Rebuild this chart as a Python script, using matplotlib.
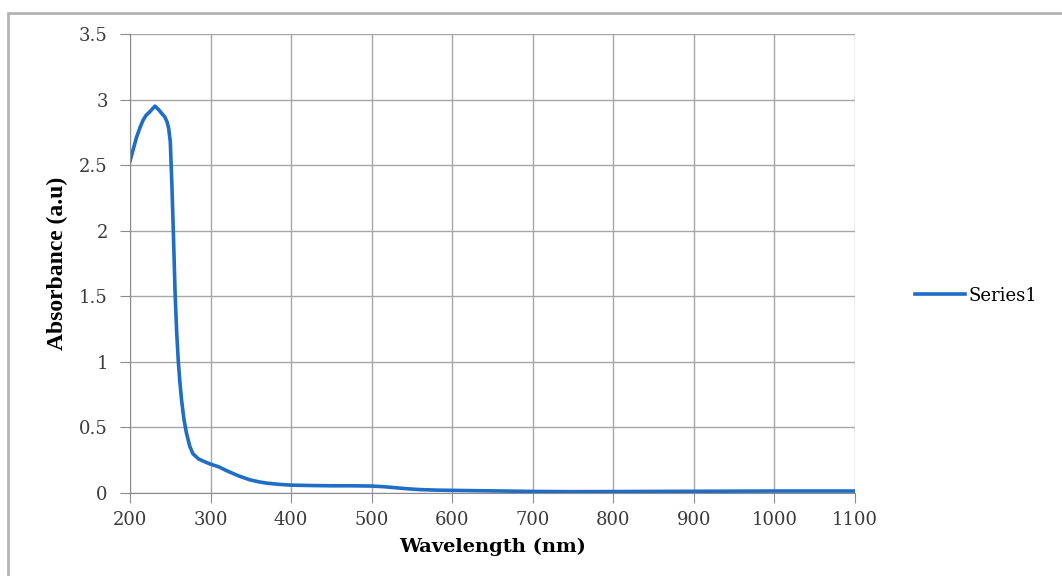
import matplotlib
matplotlib.use("Agg")
import matplotlib.pyplot as plt
import matplotlib.patches as patches

# absorbance spectrum
wavelength = [200, 204, 208, 212, 216, 220, 225, 231, 236, 240, 243, 246, 248, 250,
              252, 254, 256, 258, 260, 262, 264, 267, 270, 274, 278, 285, 292, 300,
              310, 320, 335, 349, 360, 370, 385, 400, 425, 450, 475, 500, 515, 530,
              545, 560, 580, 600, 650, 700, 750, 800, 850, 900, 950, 1000, 1050, 1100]
absorbance = [2.53, 2.62, 2.71, 2.78, 2.84, 2.88, 2.91, 2.95, 2.92, 2.89, 2.87, 2.83, 2.78, 2.68,
              2.35, 1.95, 1.52, 1.22, 1.00, 0.84, 0.71, 0.56, 0.46, 0.36, 0.30, 0.26, 0.24, 0.22,
              0.20, 0.17, 0.13, 0.10, 0.085, 0.075, 0.066, 0.060, 0.057, 0.055, 0.055, 0.053, 0.048, 0.040,
              0.032, 0.026, 0.022, 0.020, 0.016, 0.012, 0.010, 0.011, 0.012, 0.013, 0.014, 0.015, 0.015, 0.015]
series_name = "Series1"

x_ticks = list(range(200, 1101, 100))
y_ticks = [0, 0.5, 1, 1.5, 2, 2.5, 3, 3.5]
y_tick_labels = ["0", "0.5", "1", "1.5", "2", "2.5", "3", "3.5"]

plt.rcParams['font.family'] = ['DejaVu Serif']

fig = plt.figure(figsize=(10.62, 5.76), dpi=100)
ax = fig.add_axes([130/1062, 1 - 493/576, 725/1062, 459/576])

# outer chart frame (right and bottom edges run off the picture)
fig.patches.append(patches.Rectangle((8/1062, -20/576), 1080/1062, 583/576,
                                     transform=fig.transFigure, fill=False,
                                     edgecolor='#b4b4b4', linewidth=2))

ax.plot(wavelength, absorbance, color='#1f6dc4', linewidth=2.6, label=series_name)

ax.set_xlim(200, 1100)
ax.set_ylim(0, 3.5)
ax.set_xticks(x_ticks)
ax.set_yticks(y_ticks)
ax.set_yticklabels(y_tick_labels)
ax.grid(True, color='#a6a6a6', linewidth=1.0)
ax.set_axisbelow(True)

for side in ['top', 'right']:
    ax.spines[side].set_visible(False)
for side in ['left', 'bottom']:
    ax.spines[side].set_color('#8c8c8c')
ax.tick_params(axis='both', direction='out', length=7, color='#8c8c8c',
               labelsize=13, labelcolor='#3a3a3a')
ax.tick_params(axis='y', pad=9)
ax.tick_params(axis='x', pad=6)

ax.set_xlabel("Wavelength (nm)", fontsize=14, fontweight='bold', labelpad=6)
ax.set_ylabel("Absorbance (a.u)", fontsize=17, fontweight='bold', labelpad=8,
              family='Liberation Serif')

ax.legend(loc='center left', bbox_to_anchor=(1.06, 0.43), frameon=False,
          fontsize=13, handlelength=2.8, handletextpad=0.15)

fig.savefig("out.png", dpi=100)
